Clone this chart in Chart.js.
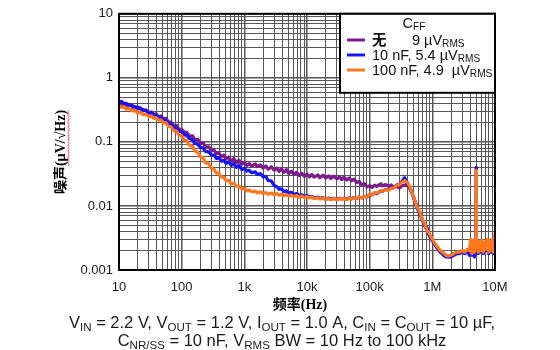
<!DOCTYPE html>
<html>
<head>
<meta charset="utf-8">
<script src="https://cdn.jsdelivr.net/npm/chart.js@4.4.1/dist/chart.umd.min.js"></script>
<style>
  html, body { margin: 0; padding: 0; background: #fff; }
  #wrap { width: 560px; height: 350px; }
</style>
</head>
<body>
<div id="wrap"><canvas id="noiseChart" width="560" height="350"></canvas></div>
<script>
// frequency points in Hz (E24 steps, denser above 1 MHz where the traces get ragged)
const freqHz = [
  10, 11, 12, 13, 15, 16, 18, 20, 22, 24, 27, 30, 33, 36, 39, 43, 47, 51, 56, 62, 68, 75, 82, 91,
  100, 110, 120, 130, 150, 160, 180, 200, 220, 240, 270, 300, 330, 360, 390, 430, 470, 510, 560, 620, 680, 750, 820, 910,
  1e3, 1.1e3, 1.2e3, 1.3e3, 1.5e3, 1.6e3, 1.8e3, 2e3, 2.2e3, 2.4e3, 2.7e3, 3e3, 3.3e3, 3.6e3, 3.9e3, 4.3e3, 4.7e3, 5.1e3, 5.6e3, 6.2e3, 6.8e3, 7.5e3, 8.2e3, 9.1e3,
  1e4, 1.1e4, 1.2e4, 1.3e4, 1.5e4, 1.6e4, 1.8e4, 2e4, 2.2e4, 2.4e4, 2.7e4, 3e4, 3.3e4, 3.6e4, 3.9e4, 4.3e4, 4.7e4, 5.1e4, 5.6e4, 6.2e4, 6.8e4, 7.5e4, 8.2e4, 9.1e4,
  1e5, 1.1e5, 1.2e5, 1.3e5, 1.5e5, 1.6e5, 1.8e5, 2e5, 2.2e5, 2.4e5, 2.7e5, 3e5, 3.3e5, 3.6e5, 3.9e5, 4.3e5, 4.7e5, 5.1e5, 5.6e5, 6.2e5, 6.8e5, 7.5e5, 8.2e5, 9.1e5,
  1e6, 1.1e6, 1.2e6, 1.35e6, 1.5e6, 1.65e6, 1.8e6, 2e6, 2.2e6, 2.45e6,
  2.7e6, 3e6, 3.3e6, 3.6e6, 3.9e6, 4.1e6, 4.3e6, 4.5e6, 4.7e6, 4.85e6,
  4.95e6, 5e6, 5.05e6, 5.2e6, 5.4e6, 5.6e6, 5.9e6, 6.2e6, 6.5e6, 6.8e6,
  7.1e6, 7.5e6, 7.9e6, 8.3e6, 8.7e6, 9.1e6, 9.5e6, 1e7
];

// noise density, uV/sqrt(Hz)
const noiseNone = [
  0.41, 0.385, 0.395, 0.365, 0.38, 0.345, 0.355, 0.325, 0.34, 0.305, 0.315, 0.285, 0.295, 0.265, 0.275, 0.245, 0.255, 0.226, 0.234, 0.203, 0.203, 0.178, 0.182, 0.157,
  0.157, 0.141, 0.142, 0.126, 0.124, 0.109, 0.110, 0.095, 0.097, 0.084, 0.084, 0.073, 0.074, 0.065, 0.068, 0.059, 0.062, 0.054, 0.058, 0.050, 0.055, 0.0475, 0.052, 0.045,
  0.048, 0.043, 0.046, 0.042, 0.0455, 0.041, 0.0438, 0.039, 0.042, 0.0375, 0.041, 0.036, 0.039, 0.0345, 0.038, 0.0335, 0.037, 0.032, 0.035, 0.031, 0.0335, 0.0298, 0.0325, 0.029,
  0.0315, 0.0285, 0.031, 0.0282, 0.0304, 0.0276, 0.0302, 0.0272, 0.0295, 0.0268, 0.0292, 0.0264, 0.0284, 0.0258, 0.0282, 0.0254, 0.0274, 0.0246, 0.0262, 0.0232, 0.0240, 0.0212, 0.0224, 0.0198,
  0.0208, 0.0195, 0.0212, 0.0202, 0.0222, 0.0206, 0.0216, 0.0204, 0.0213, 0.0194, 0.0200, 0.0190, 0.0208, 0.0210, 0.0218, 0.0192, 0.0160, 0.0128, 0.0098, 0.0077, 0.0063, 0.0049, 0.0042, 0.0033,
  0.0029, 0.0025, 0.0022, 0.0019, 0.0018, 0.0017, 0.0016, 0.0017, 0.0018, 0.0018,
  0.0019, 0.0019, 0.0019, 0.0020, 0.0019, 0.0023, 0.0018, 0.0022, 0.0019, 0.0021,
  0.0020, 0.0021, 0.0020, 0.0022, 0.0019, 0.0023, 0.0020, 0.0024, 0.0019, 0.0023,
  0.0020, 0.0025, 0.0019, 0.0024, 0.0020, 0.0026, 0.0019, 0.0028
];
const noise10nF = [
  0.42, 0.43, 0.395, 0.40, 0.37, 0.375, 0.345, 0.35, 0.325, 0.32, 0.305, 0.28, 0.28, 0.26, 0.26, 0.24, 0.24, 0.22, 0.215, 0.195, 0.19, 0.168, 0.163, 0.147,
  0.143, 0.129, 0.127, 0.115, 0.107, 0.095, 0.092, 0.082, 0.080, 0.071, 0.070, 0.062, 0.062, 0.055, 0.057, 0.050, 0.052, 0.046, 0.049, 0.043, 0.046, 0.040, 0.043, 0.037,
  0.039, 0.035, 0.036, 0.033, 0.034, 0.031, 0.032, 0.0285, 0.029, 0.025, 0.0245, 0.0208, 0.020, 0.0182, 0.0185, 0.0168, 0.0172, 0.0159, 0.0164, 0.0151, 0.0156, 0.0146, 0.0150, 0.0140,
  0.0145, 0.0137, 0.0141, 0.0134, 0.0138, 0.0131, 0.0135, 0.0128, 0.0133, 0.0127, 0.0132, 0.0126, 0.0132, 0.0127, 0.0133, 0.0128, 0.0134, 0.0129, 0.0136, 0.0131, 0.0138, 0.0134, 0.0141, 0.0138,
  0.0150, 0.0149, 0.0160, 0.0155, 0.0172, 0.0168, 0.0182, 0.0179, 0.0195, 0.0192, 0.0212, 0.0218, 0.0245, 0.0275, 0.0240, 0.0198, 0.0162, 0.0132, 0.0102, 0.0079, 0.0065, 0.0050, 0.0046, 0.0034,
  0.0029, 0.0025, 0.0022, 0.0019, 0.0017, 0.0016, 0.0016, 0.0016, 0.0017, 0.0018,
  0.0018, 0.0019, 0.0018, 0.0020, 0.0017, 0.0022, 0.0017, 0.0021, 0.0016, 0.0022,
  0.0019, 0.040, 0.0020, 0.0023, 0.0018, 0.0024, 0.0019, 0.0025, 0.0018, 0.0024,
  0.0020, 0.0026, 0.0018, 0.0025, 0.0019, 0.0027, 0.0018, 0.0030
];
const noise100nF = [
  0.37, 0.345, 0.355, 0.325, 0.335, 0.305, 0.31, 0.28, 0.29, 0.268, 0.27, 0.248, 0.255, 0.232, 0.24, 0.218, 0.22, 0.198, 0.2, 0.174, 0.17, 0.149, 0.149, 0.128,
  0.125, 0.108, 0.105, 0.090, 0.085, 0.073, 0.069, 0.058, 0.056, 0.047, 0.046, 0.038, 0.037, 0.0325, 0.033, 0.0283, 0.028, 0.0248, 0.0252, 0.0222, 0.0227, 0.0203, 0.0204, 0.0184,
  0.0188, 0.0172, 0.0178, 0.0166, 0.0171, 0.0160, 0.0166, 0.0156, 0.0162, 0.0152, 0.0159, 0.0150, 0.0156, 0.0147, 0.0153, 0.0145, 0.0150, 0.0142, 0.0148, 0.0140, 0.0145, 0.0137, 0.0143, 0.0135,
  0.0140, 0.0133, 0.0137, 0.0130, 0.0135, 0.0128, 0.0133, 0.0126, 0.0132, 0.0125, 0.0131, 0.0125, 0.0131, 0.0126, 0.0132, 0.0126, 0.0133, 0.0128, 0.0135, 0.0130, 0.0138, 0.0133, 0.0141, 0.0137,
  0.0152, 0.0150, 0.0162, 0.0159, 0.0174, 0.0169, 0.0180, 0.0175, 0.0190, 0.0189, 0.0209, 0.0215, 0.0236, 0.0248, 0.0238, 0.0208, 0.0163, 0.0134, 0.0100, 0.0084, 0.0065, 0.0053, 0.0042, 0.0036,
  0.0030, 0.0026, 0.0023, 0.0020, 0.00185, 0.0017, 0.00165, 0.0017, 0.0018, 0.0019,
  0.0019, 0.0020, 0.0019, 0.0021, 0.0020, 0.0030, 0.0018, 0.0029, 0.0019, 0.0026,
  0.0021, 0.036, 0.0022, 0.0027, 0.0019, 0.0028, 0.0020, 0.0029, 0.0019, 0.0027,
  0.0021, 0.0030, 0.0019, 0.0028, 0.0020, 0.0031, 0.0019, 0.0038
];

const xTickValues = [10, 100, 1e3, 1e4, 1e5, 1e6, 1e7];
const xTickLabels = ['10', '100', '1k', '10k', '100k', '1M', '10M'];
const yTickValues = [0.001, 0.01, 0.1, 1, 10];
const yTickLabels = ['0.001', '0.01', '0.1', '1', '10'];

const colorNone = '#7d1b8e';
const color10nF = '#1414f5';
const color100nF = '#ff761c';

const SANS = '"Liberation Sans", Arial, sans-serif';
const SERIF = '"Liberation Serif", "Times New Roman", serif';
const CJK = '"Noto Sans CJK SC", sans-serif';

// 1..9 x every decade between lo and hi, for the log grid
function logGrid(lo, hi) {
  const out = [];
  for (let d = lo; d < hi * 0.99; d *= 10) {
    for (let m = 1; m < 10; m++) out.push(+(m * d).toPrecision(6));
  }
  out.push(hi);
  return out;
}

function findTick(list, v) {
  return list.findIndex(t => Math.abs(t - v) / t < 1e-6);
}

function toPoints(vals) {
  return freqHz.map((f, i) => ({ x: f, y: vals[i] }));
}

// draws text runs with optional subscripts / font switches on one baseline
function drawRich(ctx, parts, x, y, size, align) {
  const fontFor = p => {
    const s = p.sub ? size * 0.7 : size;
    if (p.cjk) return `bold ${s}px ${CJK}`;
    if (p.serif) return `bold ${s}px ${SERIF}`;
    return `${s}px ${SANS}`;
  };
  let total = 0;
  parts.forEach(p => { ctx.font = fontFor(p); total += ctx.measureText(p.t).width; });
  let cx = align === 'center' ? x - total / 2 : x;
  const spans = [];
  ctx.textAlign = 'left';
  ctx.textBaseline = 'alphabetic';
  parts.forEach(p => {
    ctx.font = fontFor(p);
    if (p.at !== undefined) cx = p.at;
    const w = ctx.measureText(p.t).width;
    ctx.fillText(p.t, cx, y + (p.sub ? size * 0.17 : 0));
    spans.push([cx, cx + w]);
    cx += w;
  });
  return spans;
}

const legendRows = [
  { color: colorNone, parts: [{ t: '无', cjk: true }, { t: '9 µV', at: 412 }, { t: 'RMS', sub: true }] },
  { color: color10nF, parts: [{ t: '10 nF, 5.4 µV' }, { t: 'RMS', sub: true }] },
  { color: color100nF, parts: [{ t: '100 nF, 4.9  µV' }, { t: 'RMS', sub: true }] }
];

const captionLines = [
  [{ t: 'V' }, { t: 'IN', sub: true }, { t: ' = 2.2 V, V' }, { t: 'OUT', sub: true }, { t: ' = 1.2 V, I' },
   { t: 'OUT', sub: true }, { t: ' = 1.0 A, C' }, { t: 'IN', sub: true }, { t: ' = C' }, { t: 'OUT', sub: true }, { t: ' = 10 µF,' }],
  [{ t: 'C' }, { t: 'NR/SS', sub: true }, { t: ' = 10 nF, V' }, { t: 'RMS', sub: true }, { t: ' BW = 10 Hz to 100 kHz' }]
];

const decorations = {
  id: 'decorations',
  afterDraw(chart) {
    const { ctx, chartArea: a } = chart;
    ctx.save();

    // plot frame
    ctx.strokeStyle = '#000';
    ctx.lineWidth = 2;
    ctx.strokeRect(a.left, a.top, a.right - a.left, a.bottom - a.top);

    // legend box in the top right corner
    const lx = 340, ly = a.top, lw = a.right - 340, lh = 79;
    ctx.fillStyle = '#fff';
    ctx.fillRect(lx, ly, lw, lh);
    ctx.strokeRect(lx, ly, lw, lh);
    ctx.fillStyle = '#111';
    drawRich(ctx, [{ t: 'C' }, { t: 'FF', sub: true }], 414, 28, 14.5, 'center');
    legendRows.forEach((row, i) => {
      const by = 45 + i * 15;
      ctx.strokeStyle = row.color;
      ctx.lineWidth = 3;
      ctx.beginPath();
      ctx.moveTo(347, by - 5);
      ctx.lineTo(365, by - 5);
      ctx.stroke();
      ctx.fillStyle = '#111';
      drawRich(ctx, row.parts, 372, by, 14.5, 'left');
    });

    // axis titles
    ctx.fillStyle = '#000';
    drawRich(ctx, [{ t: '频率', cjk: true }, { t: '(Hz)', serif: true }], 300, 309, 14, 'center');

    ctx.save();
    ctx.translate(60, 152);
    ctx.rotate(-Math.PI / 2);
    const spans = drawRich(ctx, [{ t: '噪声', cjk: true }, { t: '(µV/√Hz)', serif: true }], 0, 5, 14, 'center');
    // red squiggle under the unit
    ctx.strokeStyle = '#e02020';
    ctx.lineWidth = 0.8;
    ctx.beginPath();
    const [u0, u1] = spans[1];
    for (let xx = u0, k = 0; xx <= u1; xx += 1.5, k++) {
      const yy = 8 + (k % 2 ? 1 : -0.2);
      if (k === 0) ctx.moveTo(xx, yy); else ctx.lineTo(xx, yy);
    }
    ctx.stroke();
    ctx.restore();

    // test conditions under the plot
    ctx.fillStyle = '#1a1a1a';
    drawRich(ctx, captionLines[0], 282, 328, 16.5, 'center');
    drawRich(ctx, captionLines[1], 282, 346, 16.5, 'center');

    ctx.restore();
  }
};

const gridColor = '#575757';

new Chart(document.getElementById('noiseChart'), {
  type: 'line',
  data: {
    datasets: [
      { label: '无', data: toPoints(noiseNone), borderColor: colorNone, order: 3 },
      { label: '10 nF', data: toPoints(noise10nF), borderColor: color10nF, order: 2 },
      { label: '100 nF', data: toPoints(noise100nF), borderColor: color100nF, order: 1 }
    ]
  },
  options: {
    responsive: false,
    animation: false,
    devicePixelRatio: 1,
    layout: { padding: { left: 0, top: 6, right: 65, bottom: 0 } },
    elements: {
      point: { radius: 0 },
      line: { borderWidth: 3.2, tension: 0, borderJoinStyle: 'round' }
    },
    plugins: { legend: { display: false }, tooltip: { enabled: false } },
    scales: {
      x: {
        type: 'logarithmic',
        min: 10,
        max: 1e7,
        afterBuildTicks: s => { s.ticks = logGrid(10, 1e7).map(v => ({ value: v })); },
        afterFit: s => { s.height = 80; },
        grid: {
          drawTicks: false,
          color: gridColor,
          lineWidth: c => (findTick(xTickValues, c.tick.value) >= 0 ? 1.5 : 1)
        },
        border: { display: false },
        ticks: {
          autoSkip: false,
          maxRotation: 0,
          padding: 10,
          color: '#1a1a1a',
          font: { family: SANS, size: 13 },
          callback: v => { const i = findTick(xTickValues, v); return i >= 0 ? xTickLabels[i] : ''; }
        }
      },
      y: {
        type: 'logarithmic',
        min: 0.001,
        max: 10,
        afterBuildTicks: s => { s.ticks = logGrid(0.001, 10).map(v => ({ value: v })); },
        afterFit: s => { s.width = 119; },
        grid: {
          drawTicks: false,
          color: gridColor,
          lineWidth: c => (findTick(yTickValues, c.tick.value) >= 0 ? 1.5 : 1)
        },
        border: { display: false },
        ticks: {
          autoSkip: false,
          padding: 6,
          color: '#1a1a1a',
          font: { family: SANS, size: 13 },
          callback: v => { const i = findTick(yTickValues, v); return i >= 0 ? yTickLabels[i] : ''; }
        }
      }
    }
  },
  plugins: [decorations]
});
</script>
</body>
</html>
